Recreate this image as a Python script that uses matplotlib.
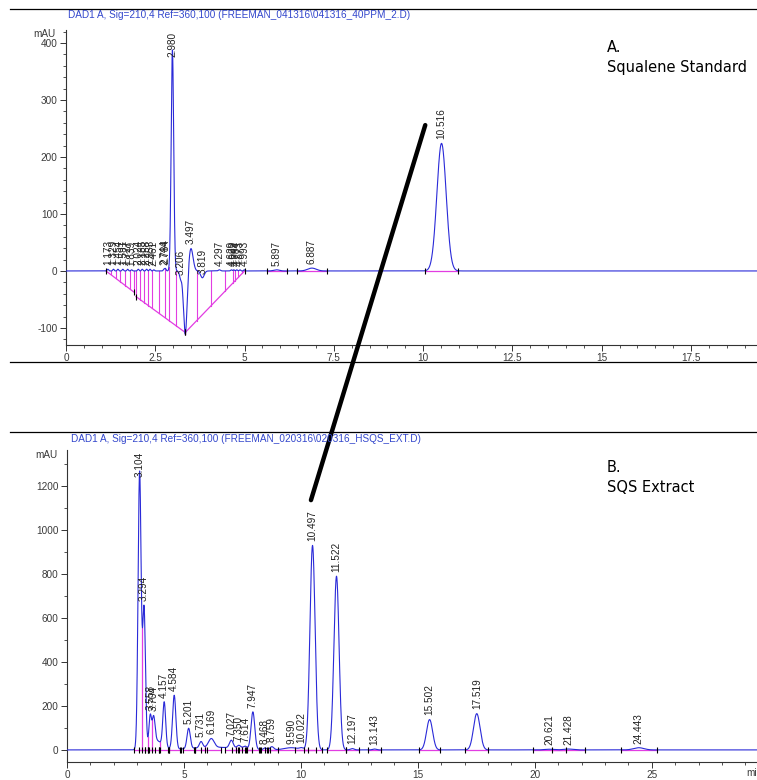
import numpy as np
import matplotlib.pyplot as plt
from matplotlib.ticker import MultipleLocator, FuncFormatter
from matplotlib.patches import ConnectionPatch
from matplotlib.lines import Line2D

# ---- A: squalene standard, labelled peaks (retention time, height mAU, sigma min)
rt_a = [1.173, 1.329, 1.454, 1.591, 1.727, 1.839, 2.024, 2.135, 2.258, 2.353, 2.461,
        2.744, 2.784, 2.980, 3.206, 3.497, 3.819, 4.297, 4.629, 4.699, 4.784, 4.873,
        4.993, 5.897, 6.887, 10.516]
h_a = [3, 3, 3, 3, 3, 2, 3, 3, 3, 3, 2,
       3, 4, 388, -12, 40, -12, 2, 2, 2, 2, 2,
       2, 2, 5, 224]
w_a = [0.02, 0.02, 0.02, 0.02, 0.02, 0.02, 0.02, 0.02, 0.02, 0.02, 0.02,
       0.02, 0.02, 0.035, 0.03, 0.06, 0.05, 0.03, 0.02, 0.02, 0.02, 0.02,
       0.02, 0.08, 0.12, 0.13]
# unlabelled negative system peak
extra_rt_a = [3.34]
extra_h_a = [-112]
extra_w_a = [0.05]
# integration baselines (start, end, level start, level end)
base_t0_a = [1.12, 1.96, 3.34]
base_t1_a = [1.90, 3.34, 5.00]
base_y0_a = [0, -45, -108]
base_y1_a = [-37, -108, 0]

# ---- B: SQS extract
rt_b = [3.104, 3.294, 3.558, 3.704, 4.157, 4.584, 5.201, 5.731, 6.169, 7.027, 7.350,
        7.614, 7.947, 8.468, 8.759, 9.590, 10.022, 10.497, 11.522, 12.197, 13.143,
        15.502, 17.519, 20.621, 21.428, 24.443]
h_b = [1260, 625, 120, 110, 200, 245, 92, 28, 40, 35, 14,
       12, 170, 8, 14, 10, 7, 930, 790, 6, 4,
       138, 165, 3, 4, 10]
w_b = [0.065, 0.06, 0.05, 0.06, 0.06, 0.07, 0.07, 0.07, 0.12, 0.08, 0.08,
       0.08, 0.08, 0.06, 0.08, 0.3, 0.08, 0.11, 0.11, 0.08, 0.08,
       0.13, 0.14, 0.2, 0.2, 0.22]
extra_rt_b = [3.75, 6.3]
extra_h_b = [45, 12]
extra_w_b = [0.3, 1.0]

header_a = r"DAD1 A, Sig=210,4 Ref=360,100 (FREEMAN_041316\041316_40PPM_2.D)"
header_b = r"DAD1 A, Sig=210,4 Ref=360,100 (FREEMAN_020316\020316_HSQS_EXT.D)"

# link between squalene peak in A and B
link_a = (10.06, 256)
link_b = (10.43, 1136)

BLUE = '#2a2ad8'
MAG = '#e23de2'
TXT = '#3a3a3a'
plt.rcParams['font.family'] = ['Liberation Sans', 'DejaVu Sans']


def trace(t, rts, hs, ws):
    y = np.zeros_like(t)
    for r, h, w in zip(rts, hs, ws):
        y += h * np.exp(-(t - r) ** 2 / (2 * w ** 2))
    return y


def style(ax, xmaj, xmin, ymaj, ymin):
    for s in ['top', 'right']:
        ax.spines[s].set_visible(False)
    for s in ['left', 'bottom']:
        ax.spines[s].set_color('#333333')
        ax.spines[s].set_linewidth(0.8)
    ax.xaxis.set_major_locator(MultipleLocator(xmaj))
    ax.xaxis.set_minor_locator(MultipleLocator(xmin))
    ax.yaxis.set_major_locator(MultipleLocator(ymaj))
    ax.yaxis.set_minor_locator(MultipleLocator(ymin))
    ax.xaxis.set_major_formatter(FuncFormatter(lambda v, p: '%g' % v))
    ax.yaxis.set_major_formatter(FuncFormatter(lambda v, p: '%g' % v))
    ax.tick_params(which='major', length=4, width=0.7, labelsize=7.2,
                   labelcolor=TXT, color='#333333', pad=2)
    ax.tick_params(which='minor', length=2.2, width=0.6, color='#333333')
    ax.patch.set_alpha(0)


def labels(ax, t, y, rts):
    top = ax.get_ylim()[1]
    span = (top - ax.get_ylim()[0]) * 0.085
    for r in rts:
        v = np.interp(r, t, y)
        if v + span > top:
            ax.annotate('%.3f' % r, xy=(r, top), xytext=(0, -1), textcoords='offset points',
                        rotation=90, ha='center', va='top', fontsize=7.2, color='#222222')
        else:
            ax.annotate('%.3f' % r, xy=(r, v), xytext=(0, 3), textcoords='offset points',
                        rotation=90, ha='center', va='bottom', fontsize=7.2, color='#222222')


def windows(ax, t, y, rts, ws, lo=0.0):
    # baseline segments and start/end ticks for isolated peaks
    for r, w in zip(rts, ws):
        if r < lo:
            continue
        hw = max(3.5 * w, 0.22)
        ax.plot([r - hw, r + hw], [0, 0], color=MAG, lw=0.9, zorder=2)
        ax.plot([r - hw, r + hw], [0, 0], ls='none', marker='|', ms=5, mew=0.8,
                color='black', zorder=4)


fig = plt.figure(figsize=(7.57, 7.80), dpi=100)


def fx(px):
    return px / 757


def fy(py):
    return 1 - py / 780


# ---------------- panel A
ax_a = fig.add_axes([fx(66), fy(345), 1 - fx(66), fy(30) - fy(345)])
ax_a.set_xlim(0, 19.35)
ax_a.set_ylim(-130, 423)
style(ax_a, 2.5, 0.5, 100, 20)

t_a = np.linspace(0, 19.35, 8000)
y_a = trace(t_a, rt_a + extra_rt_a, h_a + extra_h_a, w_a + extra_w_a)

# triangular integration baselines with drop lines
bounds = [r for r in rt_a if 1.1 < r < 5.0]
drops = [0.5 * (a + b) for a, b in zip(bounds[:-1], bounds[1:])]
drops += base_t0_a + base_t1_a
for t0, t1, y0, y1 in zip(base_t0_a, base_t1_a, base_y0_a, base_y1_a):
    ax_a.plot([t0, t1], [y0, y1], color=MAG, lw=0.9, zorder=2)
    for d in drops:
        if t0 <= d <= t1:
            yb = np.interp(d, [t0, t1], [y0, y1])
            ax_a.plot([d, d], [yb, np.interp(d, t_a, y_a)], color=MAG, lw=0.8, zorder=2)
    ax_a.plot([t0, t1], [y0, y1], ls='none', marker='|', ms=5, mew=0.8, color='black', zorder=4)

windows(ax_a, t_a, y_a, rt_a, w_a, lo=5.5)
ax_a.plot(t_a, y_a, color=BLUE, lw=0.8, zorder=3)
labels(ax_a, t_a, y_a, rt_a)

# ---------------- panel B
ax_b = fig.add_axes([fx(67), fy(762), 1 - fx(67), fy(450) - fy(762)])
ax_b.set_xlim(0, 29.5)
ax_b.set_ylim(-55, 1364)
style(ax_b, 5, 1, 200, 100)

t_b = np.linspace(0, 29.5, 10000)
y_b = trace(t_b, rt_b + extra_rt_b, h_b + extra_h_b, w_b + extra_w_b)

windows(ax_b, t_b, y_b, rt_b, w_b)
# drop lines at valleys inside the early cluster
for a, b in zip(rt_b[:-1], rt_b[1:]):
    if b - a < 0.7 and b < 9:
        m = (t_b > a) & (t_b < b)
        i = np.argmin(y_b[m])
        tv, yv = t_b[m][i], y_b[m][i]
        ax_b.plot([tv, tv], [0, yv], color=MAG, lw=0.9, zorder=2)
        ax_b.plot([tv], [0], ls='none', marker='|', ms=5, mew=0.8, color='black', zorder=4)

ax_b.plot(t_b, y_b, color=BLUE, lw=0.8, zorder=3)
labels(ax_b, t_b, y_b, rt_b)

# ---------------- frame text
for py in [9, 362, 432]:
    fig.add_artist(Line2D([fx(10), 1], [fy(py), fy(py)], color='black', lw=0.9))

fig.text(fx(68), fy(15), header_a, fontsize=7.2, color='#3347cc', va='center')
fig.text(fx(71), fy(439), header_b, fontsize=7.2, color='#3347cc', va='center')
fig.text(fx(56), fy(34), 'mAU', fontsize=7.2, color=TXT, ha='right', va='center')
fig.text(fx(58), fy(455), 'mAU', fontsize=7.2, color=TXT, ha='right', va='center')
fig.text(fx(746), fy(773), 'min', fontsize=7.2, color=TXT, va='center')

fig.text(fx(607), fy(40), 'A.\nSqualene Standard', fontsize=10.5, family='DejaVu Sans',
         va='top', linespacing=1.45)
fig.text(fx(607), fy(460), 'B.\nSQS Extract', fontsize=10.5, family='DejaVu Sans',
         va='top', linespacing=1.45)

con = ConnectionPatch(xyA=link_a, coordsA=ax_a.transData, xyB=link_b, coordsB=ax_b.transData,
                      color='black', lw=3.2)
fig.add_artist(con)

fig.savefig('out.png', dpi=100)
